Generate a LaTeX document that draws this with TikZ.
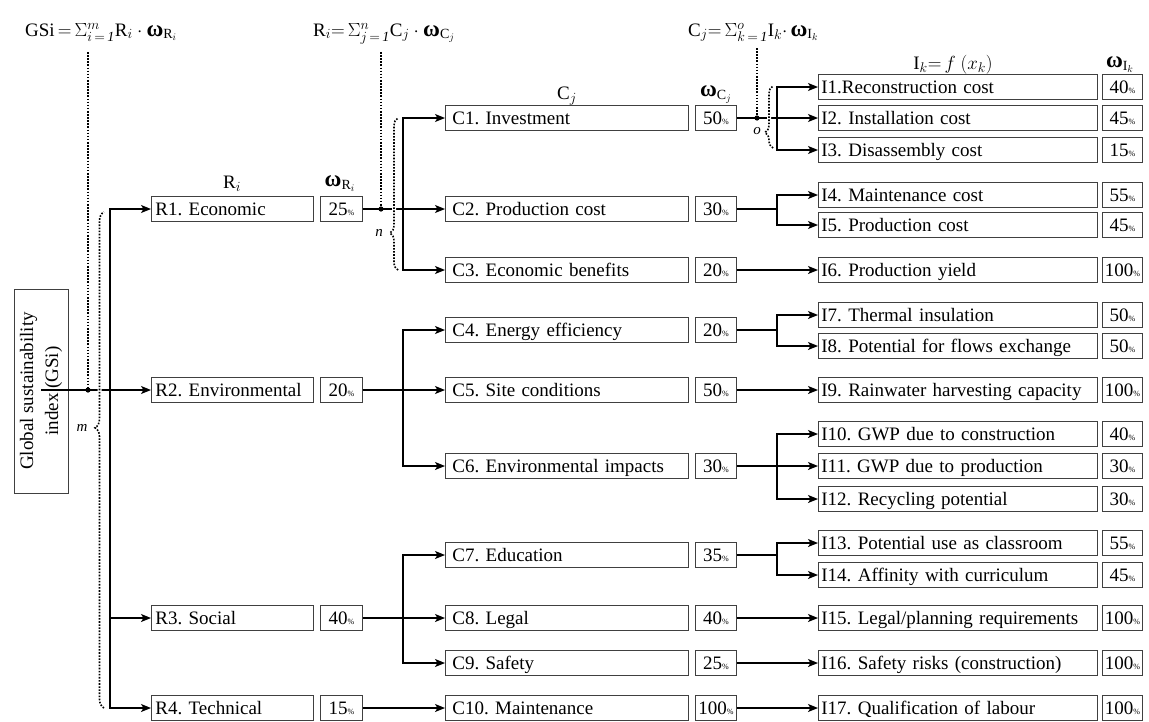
\RequirePackage{fix-cm}
\documentclass[tikz,border=0pt]{standalone}
\usepackage{amsmath}
\usepackage{fontspec}
\setmainfont{Liberation Serif}
\usetikzlibrary{arrows.meta,decorations.pathreplacing,calc}
\DeclareMathSizes{19}{19}{14}{10}
\newcommand\pc{{\fontsize{8}{8}\selectfont\%}}
\newcommand\wbf{\text{\fontsize{23}{23}\selectfont\bfseries ω}}
\frenchspacing
\hyphenpenalty=10000
\exhyphenpenalty=10000
\begin{document}
\begin{tikzpicture}[x=1pt,y=-1pt,
  every node/.style={font=\fontsize{19}{23}\selectfont, inner sep=0pt},
  box/.style={draw=black!75, line width=0.8pt, inner ysep=3pt, text height=15.5pt, text depth=3pt, anchor=west},
  rbox/.style={box, align=left, inner xsep=4pt, text width=154pt},
  cbox/.style={box, align=left, inner xsep=7pt, text width=229pt},
  ibox/.style={box, align=left, inner xsep=3pt, text width=273pt},
  wrbox/.style={box, align=center, inner xsep=0.5pt, text width=41pt},
  wcbox/.style={box, align=center, inner xsep=0.5pt, text width=40pt},
  wibox/.style={box, align=center, inner xsep=0.5pt, text width=39pt},
  line/.style={line width=1.3pt},
  arr/.style={line width=1.3pt, -{Stealth[length=10pt,width=8pt,inset=2.5pt]}},
  dots/.style={line width=1.6pt, dash pattern=on 1.6pt off 1.5pt},
  brc/.style={dots, decorate},
  gap/.style={draw=white, line width=4pt, decorate},
  lbl/.style={font=\fontsize{15}{15}\selectfont\itshape},
]
\useasboundingbox (0,0) rectangle (1149,721);

% formulas
\node[anchor=base west] (fG) at (25,36) {$\mathrm{GSi}\,{=}\,\Sigma^{m}_{i\,=\,\mathit{1}} \mathrm{R}_i \cdot \wbf_{\mathrm{R}_i}$};
\node[anchor=base west] (fR) at (313,36) {$\mathrm{R}_i{=}\,\Sigma^{n}_{j\,=\,\mathit{1}} \mathrm{C}_j \cdot \wbf_{\mathrm{C}_j}$};
\node[anchor=base west] (fC) at (688,36) {$\mathrm{C}_j{=}\,\Sigma^{o}_{k\,=\,\mathit{1}} \mathrm{I}_k {\cdot}\, \wbf_{\mathrm{I}_k}$};

% column labels
\node (lR) at (232,184) {$\mathrm{R}_i$};
\node (lwR) at (340,184) {$\wbf_{\mathrm{R}_i}$};
\node (lC) at (567,96) {$\mathrm{C}_j$};
\node (lwC) at (716,95) {$\wbf_{\mathrm{C}_j}$};
\node (lI) at (953,65) {$\mathrm{I}_k{=}\,f\ (x_k)$};
\node (lwI) at (1120,65) {$\wbf_{\mathrm{I}_k}$};

% GSi
\node[draw=black!75, line width=0.8pt, rotate=90, minimum width=204pt, minimum height=54pt, align=center, font=\fontsize{19}{25}\selectfont] (gsi) at (41,391) {Global sustainability\\index (GSi)};

% R level
\node[rbox] (r1) at (151,209) {R1. Economic};
\node[rbox] (r2) at (151,390) {R2. Environmental};
\node[rbox] (r3) at (151,618) {R3. Social};
\node[rbox] (r4) at (151,708) {R4. Technical};
\node[wrbox] (wr1) at (320,209) {25\pc};
\node[wrbox] (wr2) at (320,390) {20\pc};
\node[wrbox] (wr3) at (320,618) {40\pc};
\node[wrbox] (wr4) at (320,708) {15\pc};

% C level
\node[cbox] (c1) at (445,118) {C1. Investment};
\node[cbox] (c2) at (445,209) {C2. Production cost};
\node[cbox] (c3) at (445,270) {C3. Economic benefits};
\node[cbox] (c4) at (445,330) {C4. Energy efficiency};
\node[cbox] (c5) at (445,390) {C5. Site conditions};
\node[cbox] (c6) at (445,466) {C6. Environmental impacts};
\node[cbox] (c7) at (445,555) {C7. Education};
\node[cbox] (c8) at (445,618) {C8. Legal};
\node[cbox] (c9) at (445,663) {C9. Safety};
\node[cbox] (c10) at (445,708) {C10. Maintenance};
\node[wcbox] (wc1) at (695,118) {50\pc};
\node[wcbox] (wc2) at (695,209) {30\pc};
\node[wcbox] (wc3) at (695,270) {20\pc};
\node[wcbox] (wc4) at (695,330) {20\pc};
\node[wcbox] (wc5) at (695,390) {50\pc};
\node[wcbox] (wc6) at (695,466) {30\pc};
\node[wcbox] (wc7) at (695,555) {35\pc};
\node[wcbox] (wc8) at (695,618) {40\pc};
\node[wcbox] (wc9) at (695,663) {25\pc};
\node[wcbox] (wc10) at (695,708) {100\pc};

% I level
\node[ibox] (i1) at (818,87) {I1.Reconstruction cost};
\node[ibox] (i2) at (818,118) {I2. Installation cost};
\node[ibox] (i3) at (818,150) {I3. Disassembly cost};
\node[ibox] (i4) at (818,195) {I4. Maintenance cost};
\node[ibox] (i5) at (818,225) {I5. Production cost};
\node[ibox] (i6) at (818,270) {I6. Production yield};
\node[ibox] (i7) at (818,315) {I7. Thermal insulation};
\node[ibox] (i8) at (818,346) {I8. Potential for flows exchange};
\node[ibox] (i9) at (818,390) {I9. Rainwater harvesting capacity};
\node[ibox] (i10) at (818,434) {I10. GWP due to construction};
\node[ibox] (i11) at (818,466) {I11. GWP due to production};
\node[ibox] (i12) at (818,499) {I12. Recycling potential};
\node[ibox] (i13) at (818,543) {I13. Potential use as classroom};
\node[ibox] (i14) at (818,575) {I14. Affinity with curriculum};
\node[ibox] (i15) at (818,618) {I15. Legal/planning requirements};
\node[ibox] (i16) at (818,663) {I16. Safety risks (construction)};
\node[ibox] (i17) at (818,708) {I17. Qualification of labour};
\foreach \n/\v/\y in {1/40/87,2/45/118,3/15/150,4/55/195,5/45/225,6/100/270,7/50/315,8/50/346,9/100/390,10/40/434,11/30/466,12/30/499,13/55/543,14/45/575,15/100/618,16/100/663,17/100/708}
  \node[wibox] (wi\n) at (1102,\y) {\v\pc};

% GSi -> R
\coordinate (tG) at (88,52);
\coordinate (dG) at (88,390);
\coordinate (bG) at (110,390);
\draw[arr] (gsi.east |- r2.west) -- (r2.west);
\draw[arr] (bG) |- (r1.west);
\draw[arr] (bG) |- (r3.west);
\draw[arr] (bG) |- (r4.west);
\draw[dots] (tG) -- (dG);
\fill (dG) circle[radius=2.6pt];
\draw[gap, decoration={brace, amplitude=9pt, aspect=0.565}] (104,708) -- (104,212);
\draw[brc, decoration={brace, amplitude=9pt, aspect=0.565}] (104,708) -- (104,212);
\node[lbl] (lm) at (82,428) {m};

% R -> C
\coordinate (tR) at (381,52);
\coordinate (dR) at (381,209);
\coordinate (bR1) at (403,209);
\coordinate (bR2) at (403,390);
\coordinate (bR3) at (403,618);
\draw[arr] (wr1.east) -- (c2.west);
\draw[arr] (bR1) |- (c1.west);
\draw[arr] (bR1) |- (c3.west);
\draw[dots] (tR) -- (dR);
\fill (dR) circle[radius=2.6pt];
\draw[gap, decoration={brace, amplitude=8pt, aspect=0.243}] (398,270) -- (398,118);
\draw[brc, decoration={brace, amplitude=8pt, aspect=0.243}] (398,270) -- (398,118);
\node[lbl] (ln) at (379,233) {n};
\draw[arr] (wr2.east) -- (c5.west);
\draw[arr] (bR2) |- (c4.west);
\draw[arr] (bR2) |- (c6.west);
\draw[arr] (wr3.east) -- (c8.west);
\draw[arr] (bR3) |- (c7.west);
\draw[arr] (bR3) |- (c9.west);
\draw[arr] (wr4.east) -- (c10.west);

% C -> I
\coordinate (tC) at (757,48);
\coordinate (dC) at (757,118);
\coordinate (bC1) at (777,118);
\coordinate (bC2) at (777,209);
\coordinate (bC4) at (777,330);
\coordinate (bC6) at (777,466);
\coordinate (bC7) at (777,555);
\draw[arr] (wc1.east) -- (i2.west);
\draw[arr] (bC1) |- (i1.west);
\draw[arr] (bC1) |- (i3.west);
\draw[dots] (tC) -- (dC);
\fill (dC) circle[radius=2.6pt];
\draw[gap, decoration={brace, amplitude=8pt, aspect=0.25}] (773,148) -- (773,86);
\draw[brc, decoration={brace, amplitude=8pt, aspect=0.25}] (773,148) -- (773,86);
\node[lbl] (lo) at (757,131) {o};
\draw[line] (wc2.east) -- (bC2);
\draw[arr] (bC2) |- (i4.west);
\draw[arr] (bC2) |- (i5.west);
\draw[arr] (wc3.east) -- (i6.west);
\draw[line] (wc4.east) -- (bC4);
\draw[arr] (bC4) |- (i7.west);
\draw[arr] (bC4) |- (i8.west);
\draw[arr] (wc5.east) -- (i9.west);
\draw[arr] (wc6.east) -- (i11.west);
\draw[arr] (bC6) |- (i10.west);
\draw[arr] (bC6) |- (i12.west);
\draw[line] (wc7.east) -- (bC7);
\draw[arr] (bC7) |- (i13.west);
\draw[arr] (bC7) |- (i14.west);
\draw[arr] (wc8.east) -- (i15.west);
\draw[arr] (wc9.east) -- (i16.west);
\draw[arr] (wc10.east) -- (i17.west);
\end{tikzpicture}
\end{document}
